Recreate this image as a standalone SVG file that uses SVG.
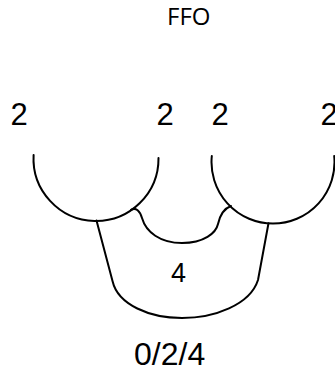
<svg xmlns="http://www.w3.org/2000/svg" width="335" height="373" viewBox="0 0 335 373">
<style>
.ln{fill:none;stroke:#000;stroke-width:2;stroke-linecap:round;stroke-linejoin:round}
.lbl{font-family:"Liberation Sans",Arial,sans-serif;fill:#000}
.ttl{font-family:"Open Sans","Noto Sans",sans-serif;fill:#000;font-size:24px}
</style>
<rect width="335" height="373" fill="#fff"/>
<text class="ttl" x="167" y="25">FFO</text>
<g id="left-circle">
<path class="ln" d="M 33.6 155 A 62.5 62.5 0 1 0 158.5 158"/>
<text class="lbl" x="10.5" y="125" font-size="31">2</text>
<text class="lbl" x="156.5" y="125" font-size="31">2</text>
</g>
<g id="right-circle">
<path class="ln" d="M 211.8 156 A 61.5 61.5 0 1 0 334.2 156"/>
<text class="lbl" x="211.5" y="125" font-size="31">2</text>
<text class="lbl" x="320.5" y="125" font-size="31">2</text>
</g>
<g id="connectors">
<path class="ln" d="M 131 209.8 C 136 207, 140 211, 142 218 C 146 232, 160 243, 182 243 C 204 243, 216 233, 218 224 C 220 215, 224 208.5, 231 206"/>
<path class="ln" d="M 96.5 220.5 L 112.5 281 C 118 305, 150 318, 182 318 C 214 318, 250 305, 258 280 L 268.5 223.3"/>
</g>
<text class="lbl" x="171" y="282" font-size="27">4</text>
<text class="lbl" x="134" y="365" font-size="32">0/2/4</text>
</svg>
